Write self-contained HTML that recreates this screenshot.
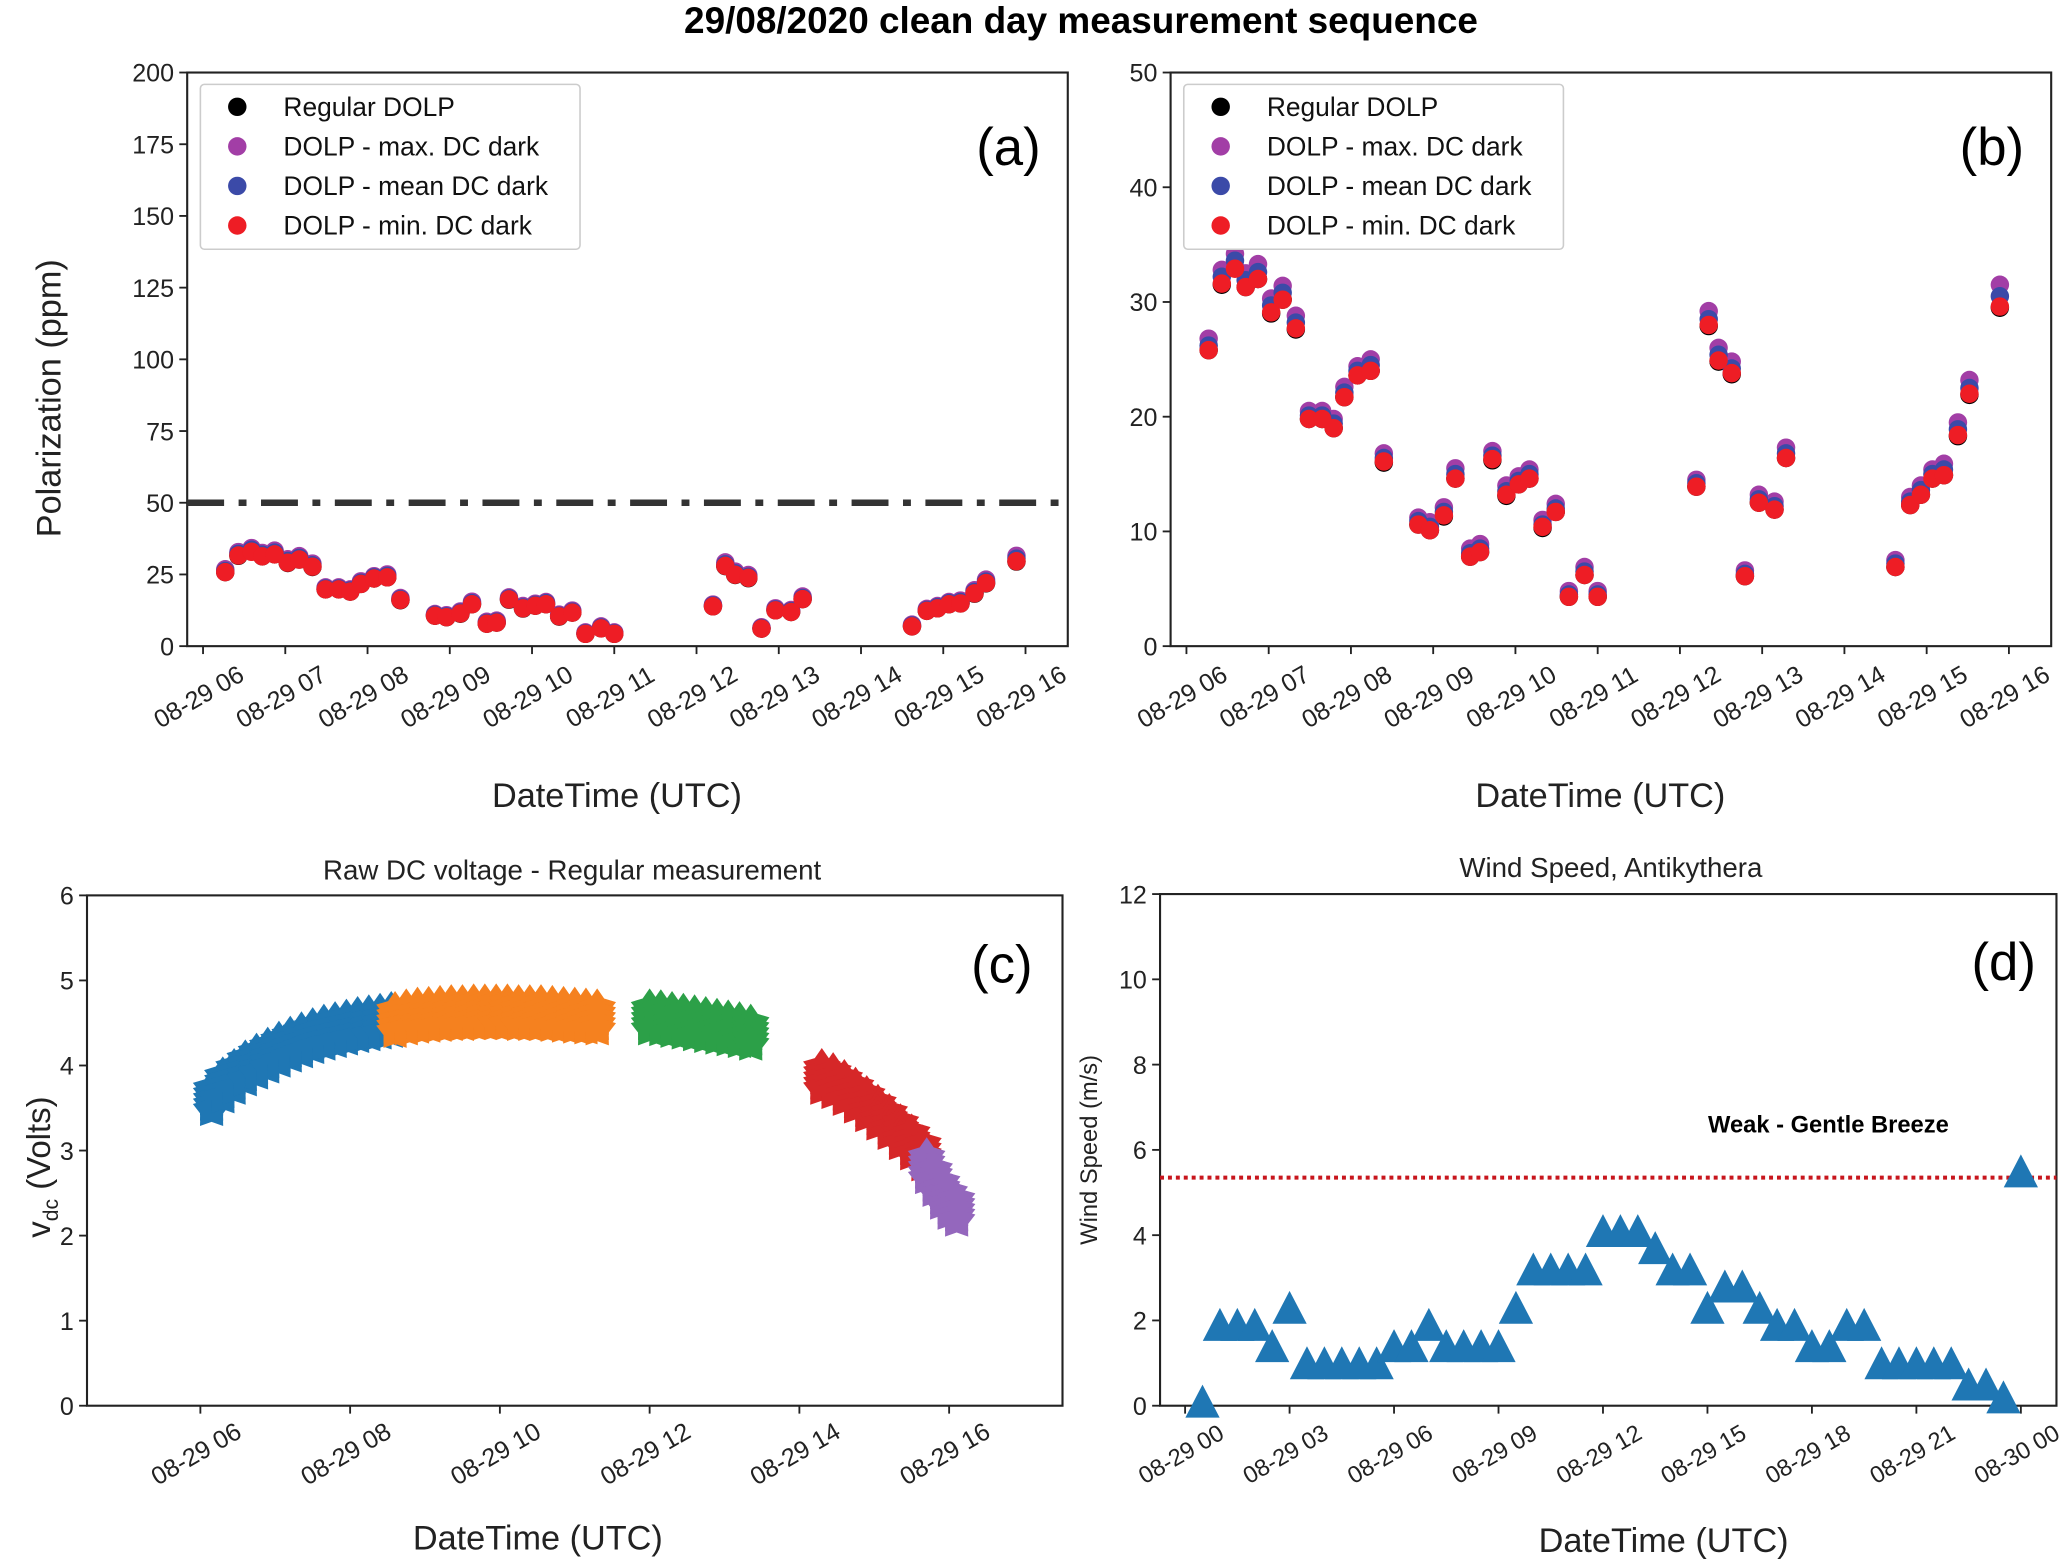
<!DOCTYPE html>
<html><head><meta charset="utf-8">
<style>
html,body{margin:0;padding:0;background:#fff;}
svg{display:block;font-family:"Liberation Sans Narrow","Liberation Sans",sans-serif;}
</style></head>
<body>
<svg id="fig" width="2067" height="1560" viewBox="0 0 1568 1183" preserveAspectRatio="none" xmlns="http://www.w3.org/2000/svg">
<text x="820" y="25" text-anchor="middle" font-size="28" font-weight="bold" fill="#000">29/08/2020 clean day measurement sequence</text>
<g id="pa"></g>
<g id="pb"></g>
<g id="pc"></g>
<g id="pd"></g>
</svg>
<script>
// ---- Panel a/b DOLP data (hours UTC, ppm) ----
const dolpHours = [6.27,6.43,6.59,6.72,6.87,7.03,7.17,7.33,7.49,7.65,7.79,7.92,8.08,8.24,8.40,8.82,8.96,9.13,9.27,9.45,9.57,9.72,9.89,10.04,10.17,10.33,10.49,10.65,10.84,11.00,12.20,12.35,12.47,12.63,12.79,12.96,13.15,13.29,14.62,14.80,14.93,15.07,15.21,15.38,15.52,15.89];
const dolpRegular = [25.8,31.5,33,31.3,32,29,30.2,27.6,19.8,19.8,19,21.7,23.6,24,16,10.6,10.1,11.3,14.6,7.8,8.2,16.2,13.1,14.1,14.6,10.3,11.7,4.3,6.2,4.3,13.9,27.9,24.8,23.7,6.1,12.5,11.9,16.4,6.9,12.3,13.2,14.6,14.9,18.3,21.9,29.5];
const dolpMaxDark = [26.8,32.8,34.2,32.5,33.3,30.3,31.4,28.8,20.5,20.5,19.8,22.6,24.4,25,16.8,11.2,10.8,12.1,15.5,8.5,8.9,17,14,14.8,15.4,11,12.4,4.8,6.9,4.8,14.5,29.2,26,24.8,6.6,13.2,12.6,17.3,7.5,13,14,15.4,15.9,19.5,23.2,31.5];
const dolpMeanDark = [26.2,32.2,33.6,31.9,32.6,29.7,30.8,28.2,20.1,20.1,19.4,22.1,24,24.5,16.4,10.9,10.4,11.7,15,8.1,8.5,16.6,13.5,14.4,15,10.6,12,4.5,6.5,4.5,14.2,28.5,25.4,24.2,6.3,12.8,12.2,16.8,7.2,12.6,13.6,15,15.4,18.9,22.5,30.5];
const dolpMinDark = [25.8,31.6,32.9,31.3,32,29.1,30.2,27.7,19.8,19.8,19,21.7,23.6,24,16.1,10.6,10.1,11.4,14.6,7.8,8.2,16.3,13.2,14.1,14.6,10.4,11.7,4.3,6.2,4.3,13.9,28,24.9,23.8,6.1,12.5,11.9,16.4,6.9,12.3,13.2,14.6,14.9,18.4,22,29.6];
const dolpTickHours = [6,7,8,9,10,11,12,13,14,15,16];
const dolpTickLabels = ["08-29 06","08-29 07","08-29 08","08-29 09","08-29 10","08-29 11","08-29 12","08-29 13","08-29 14","08-29 15","08-29 16"];
const aYTicks = [0,25,50,75,100,125,150,175,200];
const bYTicks = [0,10,20,30,40,50];
const thresholdA = 50;
// ---- Panel c DC voltage ----
const cBlueH = [6.15,6.3,6.45,6.6,6.75,6.9,7.05,7.2,7.35,7.5,7.65,7.8,7.95,8.1,8.25,8.4,8.55];
const cBlueV = [3.6,3.75,3.85,3.95,4.03,4.1,4.17,4.23,4.28,4.33,4.37,4.4,4.43,4.46,4.48,4.5,4.52];
const cOrangeH = [8.6,8.75,8.9,9.05,9.2,9.35,9.5,9.65,9.8,9.95,10.1,10.25,10.4,10.55,10.7,10.85,11.0,11.15,11.3];
const cOrangeV = [4.52,4.55,4.57,4.58,4.59,4.6,4.6,4.61,4.61,4.61,4.61,4.6,4.6,4.6,4.59,4.58,4.57,4.56,4.55];
const cGreenH = [12.0,12.15,12.3,12.45,12.6,12.75,12.9,13.05,13.2,13.35];
const cGreenV = [4.55,4.54,4.52,4.5,4.48,4.46,4.44,4.42,4.4,4.37];
const cRedH = [14.3,14.45,14.6,14.75,14.9,15.05,15.2,15.35,15.5,15.65];
const cRedV = [3.85,3.8,3.72,3.63,3.53,3.43,3.32,3.2,3.08,2.95];
const cPurpleH = [15.7,15.8,15.9,16.0,16.1];
const cPurpleV = [2.8,2.65,2.5,2.38,2.3];
const cTickHours = [6,8,10,12,14,16];
const cTickLabels = ["08-29 06","08-29 08","08-29 10","08-29 12","08-29 14","08-29 16"];
const cYTicks = [0,1,2,3,4,5,6];
// ---- Panel d wind speed ----
const windHours = [0.5,1,1.5,2,2.5,3,3.5,4,4.5,5,5.5,6,6.5,7,7.5,8,8.5,9,9.5,10,10.5,11,11.5,12,12.5,13,13.5,14,14.5,15,15.5,16,16.5,17,17.5,18,18.5,19,19.5,20,20.5,21,21.5,22,22.5,23,23.5,24];
const windSpeed = [0,1.8,1.8,1.8,1.3,2.2,0.9,0.9,0.9,0.9,0.9,1.3,1.3,1.8,1.3,1.3,1.3,1.3,2.2,3.1,3.1,3.1,3.1,4.0,4.0,4.0,3.6,3.1,3.1,2.2,2.7,2.7,2.2,1.8,1.8,1.3,1.3,1.8,1.8,0.9,0.9,0.9,0.9,0.9,0.4,0.4,0.1,5.4];
const dTickHours = [0,3,6,9,12,15,18,21,24];
const dTickLabels = ["08-29 00","08-29 03","08-29 06","08-29 09","08-29 12","08-29 15","08-29 18","08-29 21","08-30 00"];
const dYTicks = [0,2,4,6,8,10,12];
const breezeThreshold = 5.35;

const NS="http://www.w3.org/2000/svg";
function el(parent,tag,attrs,text){const e=document.createElementNS(NS,tag);for(const k in attrs)e.setAttribute(k,attrs[k]);if(text!==undefined)e.textContent=text;parent.appendChild(e);return e;}
function lin(d0,d1,r0,r1){return v=>r0+(v-d0)*(r1-r0)/(d1-d0);}

function axes(g,box,xs,ys,xTicks,xLabels,yTicks,opt){
  const f=el(g,'rect',{x:box.x0,y:box.y0,width:box.x1-box.x0,height:box.y1-box.y0,fill:'none',stroke:'#222','stroke-width':1.6});
  
  
  xTicks.forEach((t,i)=>{
    const x=xs(t);
    const tk=el(g,'line',{x1:x,y1:box.y1,x2:x,y2:box.y1+6,stroke:'#222','stroke-width':1.4});
    
    
    const cy=box.y1+opt.xlabDy;
    const tl=el(g,'text',{x:x,y:cy,'text-anchor':'middle','font-size':opt.xfs,fill:'#222',transform:`rotate(-30 ${x} ${cy})`},xLabels[i]);
    
    
  });
  yTicks.forEach(t=>{
    const y=ys(t);
    const tk=el(g,'line',{x1:box.x0-6,y1:y,x2:box.x0,y2:y,stroke:'#222','stroke-width':1.4});
    
    
    const tl=el(g,'text',{x:box.x0-10,y:y+7,'text-anchor':'end','font-size':opt.yfs,fill:'#222'},String(t));
    
    
  });
}

function dolpPanel(g,box,yMax,yTicks,tag,withThreshold){
  const xs=lin(6,16,box.x0+(box.x1-box.x0)*0.018,box.x0+(box.x1-box.x0)*0.952);
  const ys=lin(0,yMax,box.y1,box.y0);
  axes(g,box,xs,ys,dolpTickHours,dolpTickLabels,yTicks,{xfs:19,yfs:19,xlabDy:44});
  if(withThreshold){
    const th=el(g,'line',{x1:box.x0,y1:ys(thresholdA),x2:box.x1,y2:ys(thresholdA),stroke:'#333','stroke-width':5,'stroke-dasharray':'28 11 6 11'});
    
    
  }
  const series=[[dolpRegular,'#000','regular-dolp-point'],[dolpMaxDark,'#a23ea6','max-dark-point'],[dolpMeanDark,'#3b4aa8','mean-dark-point'],[dolpMinDark,'#ee1d25','min-dark-point']];
  series.forEach(s=>{
    s[0].forEach((v,i)=>{
      const c=el(g,'circle',{cx:xs(dolpHours[i]),cy:ys(v),r:7,fill:s[1]});
      
      
    });
  });
  const lx=box.x0+10, ly=box.y0+9;
  const lb=el(g,'rect',{x:lx,y:ly,width:288,height:125,rx:3,fill:'#fff',stroke:'#ccc','stroke-width':1.2});
  
  
  const names=['Regular DOLP','DOLP - max. DC dark','DOLP - mean DC dark','DOLP - min. DC dark'];
  series.forEach((s,i)=>{
    const yy=ly+17+i*30;
    const d=el(g,'circle',{cx:lx+28,cy:yy,r:7,fill:s[1]});
    
    
    const t=el(g,'text',{x:lx+63,y:yy+7,'font-size':20,fill:'#111'},names[i]);
    
    
  });
  const pl=el(g,'text',{x:box.x1-45,y:box.y0+70,'text-anchor':'middle','font-size':40,fill:'#000'},tag);
  
  
  const xl=el(g,'text',{x:(box.x0+box.x1)/2-8,y:612,'text-anchor':'middle','font-size':26,fill:'#222'},'DateTime (UTC)');
  
  
}

const pa=document.getElementById('pa');
dolpPanel(pa,{x0:142,y0:55,x1:810,y1:490},200,aYTicks,'(a)',true);
const ya=el(pa,'text',{x:46,y:302,'text-anchor':'middle','font-size':26,fill:'#222',transform:'rotate(-90 46 302)'},'Polarization  (ppm)');


const pb=document.getElementById('pb');
dolpPanel(pb,{x0:888,y0:55,x1:1556,y1:490},50,bYTicks,'(b)',false);

function starPath(cx,cy,R,r){let d='';for(let k=0;k<10;k++){const a=-Math.PI/2+k*Math.PI/5;const rr=k%2?r:R;d+=(k?'L':'M')+(cx+rr*Math.cos(a)).toFixed(1)+','+(cy+rr*Math.sin(a)).toFixed(1);}return d+'Z';}
const pc=document.getElementById('pc');
{
  const box={x0:66,y0:679,x1:806,y1:1066};
  const xs=lin(6,16,152,720), ys=lin(0,6,box.y1,box.y0);
  axes(pc,box,xs,ys,cTickHours,cTickLabels,cYTicks,{xfs:19,yfs:19,xlabDy:42});
  const groups=[[cBlueH,cBlueV,'#1f77b4','blue-segment'],[cOrangeH,cOrangeV,'#f5811f','orange-segment'],[cGreenH,cGreenV,'#2ca048','green-segment'],[cRedH,cRedV,'#d62728','red-segment'],[cPurpleH,cPurpleV,'#9467bd','purple-segment']];
  groups.forEach(gr=>{
    gr[0].forEach((h,i)=>{
      [-8,-4,0,4,8].forEach(off=>{
        const p=el(pc,'path',{d:starPath(xs(h),ys(gr[1][i])+off,15,9),fill:gr[2]});
        
        
      });
    });
  });
  const t=el(pc,'text',{x:434,y:667,'text-anchor':'middle','font-size':21,fill:'#222'},'Raw DC voltage - Regular measurement');
  
  
  const pl=el(pc,'text',{x:760,y:745,'text-anchor':'middle','font-size':40,fill:'#000'},'(c)');
  
  
  const xl=el(pc,'text',{x:408,y:1175,'text-anchor':'middle','font-size':26,fill:'#222'},'DateTime (UTC)');
  
  
  const yl=el(pc,'text',{x:38,y:885,'text-anchor':'middle','font-size':25,fill:'#222',transform:'rotate(-90 38 885)'});
  
  
  el(yl,'tspan',{},'v');
  el(yl,'tspan',{dy:6,'font-size':16},'dc');
  el(yl,'tspan',{dy:-6},' (Volts)');
}

const pd=document.getElementById('pd');
{
  const box={x0:880,y0:678,x1:1560,y1:1066};
  const xs=lin(0,24,899,1533), ys=lin(0,12,box.y1,box.y0);
  axes(pd,box,xs,ys,dTickHours,dTickLabels,dYTicks,{xfs:18,yfs:19,xlabDy:42});
  const ty=ys(breezeThreshold);
  const th=el(pd,'line',{x1:box.x0,y1:ty,x2:box.x1,y2:ty,stroke:'#c8161d','stroke-width':3,'stroke-dasharray':'3 3'});
  
  
  windHours.forEach((h,i)=>{
    const x=xs(h), y=ys(windSpeed[i]);
    const p=el(pd,'path',{d:`M${x},${y-16}L${x+13},${y+9}L${x-13},${y+9}Z`,fill:'#1f77b4'});
    
    
  });
  const bt=el(pd,'text',{x:1387,y:859,'text-anchor':'middle','font-size':18,'font-weight':'bold',fill:'#000'},'Weak - Gentle Breeze');
  
  
  const t=el(pd,'text',{x:1222,y:665,'text-anchor':'middle','font-size':21,fill:'#222'},'Wind Speed, Antikythera');
  
  
  const pl=el(pd,'text',{x:1520,y:743,'text-anchor':'middle','font-size':40,fill:'#000'},'(d)');
  
  
  const xl=el(pd,'text',{x:1262,y:1177,'text-anchor':'middle','font-size':26,fill:'#222'},'DateTime (UTC)');
  
  
  const yl=el(pd,'text',{x:832,y:872,'text-anchor':'middle','font-size':18,fill:'#222',transform:'rotate(-90 832 872)'},'Wind Speed (m/s)');
  
  
}
</script>
</body></html>
